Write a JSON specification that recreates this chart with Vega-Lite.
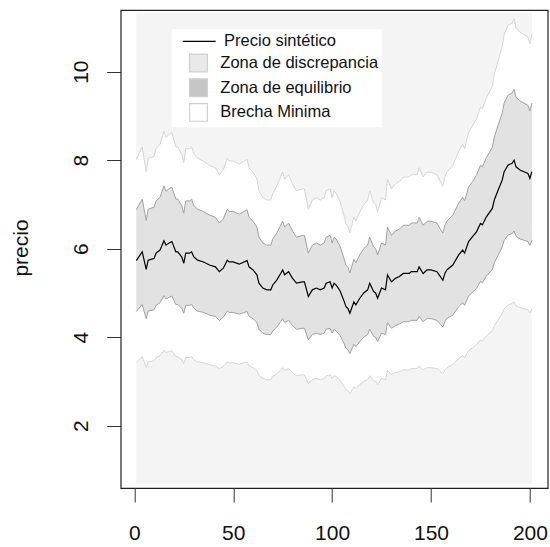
{
  "$schema": "https://vega.github.io/schema/vega-lite/v6.json",
  "autosize": "none",
  "width": 427,
  "height": 478,
  "padding": {"left": 120.7, "top": 10, "right": 2.3, "bottom": 59},
  "background": "white",
  "config": {
    "view": {"stroke": "#222222", "strokeWidth": 1.2},
    "font": "Liberation Sans",
    "axisX": {
      "title": null, "domain": false, "grid": false,
      "tickSize": 14, "tickColor": "#333333", "tickWidth": 1,
      "labelFontSize": 21, "labelFont": "Liberation Sans", "labelColor": "#111111",
      "labelPadding": 20, "labelFlush": false, "labelOverlap": false
    },
    "axisY": {
      "domain": false, "grid": false,
      "tickSize": 14, "tickColor": "#333333", "tickWidth": 1,
      "labelFontSize": 21, "labelFont": "Liberation Sans", "labelColor": "#111111",
      "labelAngle": -90, "labelAlign": "center", "labelBaseline": "alphabetic",
      "labelPadding": 19.7, "labelFlush": false, "labelOverlap": false,
      "titleFontSize": 21, "titleFont": "Liberation Sans", "titleFontWeight": "normal",
      "titleColor": "#111111", "titleAngle": -90, "titleAlign": "center",
      "titleBaseline": "alphabetic", "titleX": -93, "titleY": 237.5
    }
  },
  "data": {
    "values": [
      {"t": 1, "precio": 5.73, "ext_inf": 3.44, "eq_inf": 4.58, "eq_sup": 6.88, "ext_sup": 8.02},
      {"t": 4, "precio": 5.93, "ext_inf": 3.56, "eq_inf": 4.74, "eq_sup": 7.12, "ext_sup": 8.30},
      {"t": 6, "precio": 5.53, "ext_inf": 3.32, "eq_inf": 4.42, "eq_sup": 6.64, "ext_sup": 7.74},
      {"t": 7, "precio": 5.74, "ext_inf": 3.44, "eq_inf": 4.59, "eq_sup": 6.89, "ext_sup": 8.04},
      {"t": 10, "precio": 5.78, "ext_inf": 3.47, "eq_inf": 4.62, "eq_sup": 6.94, "ext_sup": 8.09},
      {"t": 11, "precio": 5.90, "ext_inf": 3.54, "eq_inf": 4.72, "eq_sup": 7.08, "ext_sup": 8.26},
      {"t": 13, "precio": 5.97, "ext_inf": 3.58, "eq_inf": 4.78, "eq_sup": 7.16, "ext_sup": 8.36},
      {"t": 15, "precio": 6.18, "ext_inf": 3.71, "eq_inf": 4.94, "eq_sup": 7.42, "ext_sup": 8.65},
      {"t": 16, "precio": 6.08, "ext_inf": 3.65, "eq_inf": 4.86, "eq_sup": 7.30, "ext_sup": 8.51},
      {"t": 18, "precio": 6.14, "ext_inf": 3.68, "eq_inf": 4.91, "eq_sup": 7.37, "ext_sup": 8.60},
      {"t": 19, "precio": 6.16, "ext_inf": 3.70, "eq_inf": 4.93, "eq_sup": 7.39, "ext_sup": 8.62},
      {"t": 21, "precio": 5.93, "ext_inf": 3.56, "eq_inf": 4.74, "eq_sup": 7.12, "ext_sup": 8.30},
      {"t": 22, "precio": 5.93, "ext_inf": 3.56, "eq_inf": 4.74, "eq_sup": 7.12, "ext_sup": 8.30},
      {"t": 24, "precio": 5.81, "ext_inf": 3.49, "eq_inf": 4.65, "eq_sup": 6.97, "ext_sup": 8.13},
      {"t": 25, "precio": 5.67, "ext_inf": 3.40, "eq_inf": 4.54, "eq_sup": 6.80, "ext_sup": 7.94},
      {"t": 26, "precio": 5.90, "ext_inf": 3.54, "eq_inf": 4.72, "eq_sup": 7.08, "ext_sup": 8.26},
      {"t": 28, "precio": 5.90, "ext_inf": 3.54, "eq_inf": 4.72, "eq_sup": 7.08, "ext_sup": 8.26},
      {"t": 29, "precio": 5.93, "ext_inf": 3.56, "eq_inf": 4.74, "eq_sup": 7.12, "ext_sup": 8.30},
      {"t": 30, "precio": 5.82, "ext_inf": 3.49, "eq_inf": 4.66, "eq_sup": 6.98, "ext_sup": 8.15},
      {"t": 32, "precio": 5.74, "ext_inf": 3.44, "eq_inf": 4.59, "eq_sup": 6.89, "ext_sup": 8.04},
      {"t": 35, "precio": 5.70, "ext_inf": 3.42, "eq_inf": 4.56, "eq_sup": 6.84, "ext_sup": 7.98},
      {"t": 38, "precio": 5.63, "ext_inf": 3.38, "eq_inf": 4.50, "eq_sup": 6.76, "ext_sup": 7.88},
      {"t": 41, "precio": 5.59, "ext_inf": 3.35, "eq_inf": 4.47, "eq_sup": 6.71, "ext_sup": 7.83},
      {"t": 43, "precio": 5.48, "ext_inf": 3.29, "eq_inf": 4.38, "eq_sup": 6.58, "ext_sup": 7.67},
      {"t": 45, "precio": 5.56, "ext_inf": 3.34, "eq_inf": 4.45, "eq_sup": 6.67, "ext_sup": 7.78},
      {"t": 47, "precio": 5.74, "ext_inf": 3.44, "eq_inf": 4.59, "eq_sup": 6.89, "ext_sup": 8.04},
      {"t": 48, "precio": 5.70, "ext_inf": 3.42, "eq_inf": 4.56, "eq_sup": 6.84, "ext_sup": 7.98},
      {"t": 50, "precio": 5.70, "ext_inf": 3.42, "eq_inf": 4.56, "eq_sup": 6.84, "ext_sup": 7.98},
      {"t": 53, "precio": 5.65, "ext_inf": 3.39, "eq_inf": 4.52, "eq_sup": 6.78, "ext_sup": 7.91},
      {"t": 57, "precio": 5.73, "ext_inf": 3.44, "eq_inf": 4.58, "eq_sup": 6.88, "ext_sup": 8.02},
      {"t": 58, "precio": 5.59, "ext_inf": 3.35, "eq_inf": 4.47, "eq_sup": 6.71, "ext_sup": 7.83},
      {"t": 60, "precio": 5.52, "ext_inf": 3.31, "eq_inf": 4.42, "eq_sup": 6.62, "ext_sup": 7.73},
      {"t": 62, "precio": 5.41, "ext_inf": 3.25, "eq_inf": 4.33, "eq_sup": 6.49, "ext_sup": 7.57},
      {"t": 63, "precio": 5.22, "ext_inf": 3.13, "eq_inf": 4.18, "eq_sup": 6.26, "ext_sup": 7.31},
      {"t": 65, "precio": 5.11, "ext_inf": 3.07, "eq_inf": 4.09, "eq_sup": 6.13, "ext_sup": 7.15},
      {"t": 67, "precio": 5.07, "ext_inf": 3.04, "eq_inf": 4.06, "eq_sup": 6.08, "ext_sup": 7.10},
      {"t": 69, "precio": 5.07, "ext_inf": 3.04, "eq_inf": 4.06, "eq_sup": 6.08, "ext_sup": 7.10},
      {"t": 70, "precio": 5.18, "ext_inf": 3.11, "eq_inf": 4.14, "eq_sup": 6.22, "ext_sup": 7.25},
      {"t": 72, "precio": 5.29, "ext_inf": 3.17, "eq_inf": 4.23, "eq_sup": 6.35, "ext_sup": 7.41},
      {"t": 74, "precio": 5.44, "ext_inf": 3.26, "eq_inf": 4.35, "eq_sup": 6.53, "ext_sup": 7.62},
      {"t": 75, "precio": 5.52, "ext_inf": 3.31, "eq_inf": 4.42, "eq_sup": 6.62, "ext_sup": 7.73},
      {"t": 76, "precio": 5.41, "ext_inf": 3.25, "eq_inf": 4.33, "eq_sup": 6.49, "ext_sup": 7.57},
      {"t": 78, "precio": 5.48, "ext_inf": 3.29, "eq_inf": 4.38, "eq_sup": 6.58, "ext_sup": 7.67},
      {"t": 80, "precio": 5.33, "ext_inf": 3.20, "eq_inf": 4.26, "eq_sup": 6.40, "ext_sup": 7.46},
      {"t": 82, "precio": 5.22, "ext_inf": 3.13, "eq_inf": 4.18, "eq_sup": 6.26, "ext_sup": 7.31},
      {"t": 85, "precio": 5.25, "ext_inf": 3.15, "eq_inf": 4.20, "eq_sup": 6.30, "ext_sup": 7.35},
      {"t": 86, "precio": 5.25, "ext_inf": 3.15, "eq_inf": 4.20, "eq_sup": 6.30, "ext_sup": 7.35},
      {"t": 88, "precio": 4.92, "ext_inf": 2.95, "eq_inf": 3.94, "eq_sup": 5.90, "ext_sup": 6.89},
      {"t": 90, "precio": 5.07, "ext_inf": 3.04, "eq_inf": 4.06, "eq_sup": 6.08, "ext_sup": 7.10},
      {"t": 92, "precio": 5.11, "ext_inf": 3.07, "eq_inf": 4.09, "eq_sup": 6.13, "ext_sup": 7.15},
      {"t": 94, "precio": 5.07, "ext_inf": 3.04, "eq_inf": 4.06, "eq_sup": 6.08, "ext_sup": 7.10},
      {"t": 96, "precio": 5.11, "ext_inf": 3.07, "eq_inf": 4.09, "eq_sup": 6.13, "ext_sup": 7.15},
      {"t": 97, "precio": 5.22, "ext_inf": 3.13, "eq_inf": 4.18, "eq_sup": 6.26, "ext_sup": 7.31},
      {"t": 99, "precio": 5.25, "ext_inf": 3.15, "eq_inf": 4.20, "eq_sup": 6.30, "ext_sup": 7.35},
      {"t": 100, "precio": 5.11, "ext_inf": 3.07, "eq_inf": 4.09, "eq_sup": 6.13, "ext_sup": 7.15},
      {"t": 101, "precio": 5.22, "ext_inf": 3.13, "eq_inf": 4.18, "eq_sup": 6.26, "ext_sup": 7.31},
      {"t": 102, "precio": 5.18, "ext_inf": 3.11, "eq_inf": 4.14, "eq_sup": 6.22, "ext_sup": 7.25},
      {"t": 104, "precio": 5.05, "ext_inf": 3.03, "eq_inf": 4.04, "eq_sup": 6.06, "ext_sup": 7.07},
      {"t": 106, "precio": 4.82, "ext_inf": 2.89, "eq_inf": 3.86, "eq_sup": 5.78, "ext_sup": 6.75},
      {"t": 107, "precio": 4.69, "ext_inf": 2.81, "eq_inf": 3.75, "eq_sup": 5.63, "ext_sup": 6.57},
      {"t": 108, "precio": 4.65, "ext_inf": 2.79, "eq_inf": 3.72, "eq_sup": 5.58, "ext_sup": 6.51},
      {"t": 109, "precio": 4.54, "ext_inf": 2.72, "eq_inf": 3.63, "eq_sup": 5.45, "ext_sup": 6.36},
      {"t": 111, "precio": 4.80, "ext_inf": 2.88, "eq_inf": 3.84, "eq_sup": 5.76, "ext_sup": 6.72},
      {"t": 112, "precio": 4.73, "ext_inf": 2.84, "eq_inf": 3.78, "eq_sup": 5.68, "ext_sup": 6.62},
      {"t": 114, "precio": 4.88, "ext_inf": 2.93, "eq_inf": 3.90, "eq_sup": 5.86, "ext_sup": 6.83},
      {"t": 116, "precio": 5.00, "ext_inf": 3.00, "eq_inf": 4.00, "eq_sup": 6.00, "ext_sup": 7.00},
      {"t": 118, "precio": 5.07, "ext_inf": 3.04, "eq_inf": 4.06, "eq_sup": 6.08, "ext_sup": 7.10},
      {"t": 119, "precio": 5.22, "ext_inf": 3.13, "eq_inf": 4.18, "eq_sup": 6.26, "ext_sup": 7.31},
      {"t": 121, "precio": 5.03, "ext_inf": 3.02, "eq_inf": 4.02, "eq_sup": 6.04, "ext_sup": 7.04},
      {"t": 122, "precio": 5.00, "ext_inf": 3.00, "eq_inf": 4.00, "eq_sup": 6.00, "ext_sup": 7.00},
      {"t": 123, "precio": 4.88, "ext_inf": 2.93, "eq_inf": 3.90, "eq_sup": 5.86, "ext_sup": 6.83},
      {"t": 125, "precio": 5.11, "ext_inf": 3.07, "eq_inf": 4.09, "eq_sup": 6.13, "ext_sup": 7.15},
      {"t": 127, "precio": 5.07, "ext_inf": 3.04, "eq_inf": 4.06, "eq_sup": 6.08, "ext_sup": 7.10},
      {"t": 128, "precio": 5.41, "ext_inf": 3.25, "eq_inf": 4.33, "eq_sup": 6.49, "ext_sup": 7.57},
      {"t": 130, "precio": 5.25, "ext_inf": 3.15, "eq_inf": 4.20, "eq_sup": 6.30, "ext_sup": 7.35},
      {"t": 132, "precio": 5.33, "ext_inf": 3.20, "eq_inf": 4.26, "eq_sup": 6.40, "ext_sup": 7.46},
      {"t": 134, "precio": 5.37, "ext_inf": 3.22, "eq_inf": 4.30, "eq_sup": 6.44, "ext_sup": 7.52},
      {"t": 136, "precio": 5.44, "ext_inf": 3.26, "eq_inf": 4.35, "eq_sup": 6.53, "ext_sup": 7.62},
      {"t": 139, "precio": 5.44, "ext_inf": 3.26, "eq_inf": 4.35, "eq_sup": 6.53, "ext_sup": 7.62},
      {"t": 140, "precio": 5.48, "ext_inf": 3.29, "eq_inf": 4.38, "eq_sup": 6.58, "ext_sup": 7.67},
      {"t": 143, "precio": 5.48, "ext_inf": 3.29, "eq_inf": 4.38, "eq_sup": 6.58, "ext_sup": 7.67},
      {"t": 144, "precio": 5.59, "ext_inf": 3.35, "eq_inf": 4.47, "eq_sup": 6.71, "ext_sup": 7.83},
      {"t": 146, "precio": 5.44, "ext_inf": 3.26, "eq_inf": 4.35, "eq_sup": 6.53, "ext_sup": 7.62},
      {"t": 148, "precio": 5.52, "ext_inf": 3.31, "eq_inf": 4.42, "eq_sup": 6.62, "ext_sup": 7.73},
      {"t": 150, "precio": 5.52, "ext_inf": 3.31, "eq_inf": 4.42, "eq_sup": 6.62, "ext_sup": 7.73},
      {"t": 153, "precio": 5.48, "ext_inf": 3.29, "eq_inf": 4.38, "eq_sup": 6.58, "ext_sup": 7.67},
      {"t": 155, "precio": 5.35, "ext_inf": 3.21, "eq_inf": 4.28, "eq_sup": 6.42, "ext_sup": 7.49},
      {"t": 156, "precio": 5.29, "ext_inf": 3.17, "eq_inf": 4.23, "eq_sup": 6.35, "ext_sup": 7.41},
      {"t": 157, "precio": 5.44, "ext_inf": 3.26, "eq_inf": 4.35, "eq_sup": 6.53, "ext_sup": 7.62},
      {"t": 158, "precio": 5.52, "ext_inf": 3.31, "eq_inf": 4.42, "eq_sup": 6.62, "ext_sup": 7.73},
      {"t": 161, "precio": 5.63, "ext_inf": 3.38, "eq_inf": 4.50, "eq_sup": 6.76, "ext_sup": 7.88},
      {"t": 164, "precio": 5.86, "ext_inf": 3.52, "eq_inf": 4.69, "eq_sup": 7.03, "ext_sup": 8.20},
      {"t": 166, "precio": 5.97, "ext_inf": 3.58, "eq_inf": 4.78, "eq_sup": 7.16, "ext_sup": 8.36},
      {"t": 167, "precio": 5.90, "ext_inf": 3.54, "eq_inf": 4.72, "eq_sup": 7.08, "ext_sup": 8.26},
      {"t": 169, "precio": 6.16, "ext_inf": 3.70, "eq_inf": 4.93, "eq_sup": 7.39, "ext_sup": 8.62},
      {"t": 171, "precio": 6.27, "ext_inf": 3.76, "eq_inf": 5.02, "eq_sup": 7.52, "ext_sup": 8.78},
      {"t": 173, "precio": 6.38, "ext_inf": 3.83, "eq_inf": 5.10, "eq_sup": 7.66, "ext_sup": 8.93},
      {"t": 175, "precio": 6.57, "ext_inf": 3.94, "eq_inf": 5.26, "eq_sup": 7.88, "ext_sup": 9.20},
      {"t": 176, "precio": 6.54, "ext_inf": 3.92, "eq_inf": 5.23, "eq_sup": 7.85, "ext_sup": 9.16},
      {"t": 178, "precio": 6.72, "ext_inf": 4.03, "eq_inf": 5.38, "eq_sup": 8.06, "ext_sup": 9.41},
      {"t": 181, "precio": 6.91, "ext_inf": 4.15, "eq_inf": 5.53, "eq_sup": 8.29, "ext_sup": 9.67},
      {"t": 182, "precio": 7.10, "ext_inf": 4.26, "eq_inf": 5.68, "eq_sup": 8.52, "ext_sup": 9.94},
      {"t": 184, "precio": 7.33, "ext_inf": 4.40, "eq_inf": 5.86, "eq_sup": 8.80, "ext_sup": 10.26},
      {"t": 186, "precio": 7.55, "ext_inf": 4.53, "eq_inf": 6.04, "eq_sup": 9.06, "ext_sup": 10.57},
      {"t": 187, "precio": 7.74, "ext_inf": 4.64, "eq_inf": 6.19, "eq_sup": 9.29, "ext_sup": 10.84},
      {"t": 189, "precio": 7.89, "ext_inf": 4.73, "eq_inf": 6.31, "eq_sup": 9.47, "ext_sup": 11.05},
      {"t": 191, "precio": 7.93, "ext_inf": 4.76, "eq_inf": 6.34, "eq_sup": 9.52, "ext_sup": 11.10},
      {"t": 192, "precio": 8.00, "ext_inf": 4.80, "eq_inf": 6.40, "eq_sup": 9.60, "ext_sup": 11.20},
      {"t": 193, "precio": 7.85, "ext_inf": 4.71, "eq_inf": 6.28, "eq_sup": 9.42, "ext_sup": 10.99},
      {"t": 195, "precio": 7.78, "ext_inf": 4.67, "eq_inf": 6.22, "eq_sup": 9.34, "ext_sup": 10.89},
      {"t": 197, "precio": 7.74, "ext_inf": 4.64, "eq_inf": 6.19, "eq_sup": 9.29, "ext_sup": 10.84},
      {"t": 199, "precio": 7.70, "ext_inf": 4.62, "eq_inf": 6.16, "eq_sup": 9.24, "ext_sup": 10.78},
      {"t": 200, "precio": 7.59, "ext_inf": 4.55, "eq_inf": 6.07, "eq_sup": 9.11, "ext_sup": 10.63},
      {"t": 201, "precio": 7.74, "ext_inf": 4.64, "eq_inf": 6.19, "eq_sup": 9.29, "ext_sup": 10.84}
    ]
  },
  "layer": [
    {
      "mark": {"type": "area", "fillOpacity": 0.5},
      "encoding": {
        "x": {
          "field": "t", "type": "quantitative", "title": null,
          "scale": {"domain": [-6.88, 209.0], "nice": false, "zero": false},
          "axis": {"values": [0, 50, 100, 150, 200]}
        },
        "y": {
          "field": "ext_inf", "type": "quantitative", "stack": null, "title": "precio",
          "scale": {"domain": [0.592, 11.394], "nice": false, "zero": false},
          "axis": {"values": [2, 4, 6, 8, 10]}
        },
        "y2": {"datum": 0.7},
        "fill": {
          "datum": "Zona de discrepancia",
          "scale": {
            "domain": ["Zona de discrepancia", "Zona de equilibrio", "Brecha Minima"],
            "range": ["#e9e9e9", "#c6c6c6", "#ffffff"]
          },
          "legend": {
            "orient": "none", "legendX": 51, "legendY": 19.3,
            "title": "\u00a0\u00a0\u00a0\u00a0\u00a0\u00a0\u00a0\u00a0\u00a0\u00a0\u00a0\u00a0\u00a0\u00a0\u00a0\u00a0\u00a0\u00a0\u00a0\u00a0\u00a0\u00a0\u00a0\u00a0\u00a0\u00a0\u00a0\u00a0\u00a0\u00a0\u00a0\u00a0\u00a0\u00a0\u00a0\u00a0\u00a0\u00a0\u00a0\u00a0\u00a0\u00a0\u00a0\u00a0\u00a0\u00a0\u00a0",
            "titleFontSize": 16.5, "titleFont": "Liberation Sans", "titlePadding": 4.7, "titleLimit": 400,
            "padding": 3, "fillColor": "#ffffff", "strokeColor": null,
            "symbolType": "square", "symbolSize": 313, "symbolOffset": 14.3,
            "symbolStrokeColor": "#cfcfcf", "symbolStrokeWidth": 1,
            "labelOffset": 12.3, "rowPadding": 1.7,
            "labelFontSize": 16.5, "labelFont": "Liberation Sans", "labelColor": "#111111",
            "encode": {
              "symbols": {
                "update": {
                  "fillOpacity": {"value": 1},
                  "opacity": {"value": 1},
                  "stroke": {"value": "#cfcfcf"},
                  "strokeWidth": {"value": 1.2}
                }
              }
            }
          }
        }
      }
    },
    {
      "mark": {"type": "area", "fillOpacity": 0.5},
      "encoding": {
        "x": {"field": "t", "type": "quantitative", "title": null, "scale": {"domain": [-6.88, 209.0], "nice": false, "zero": false}},
        "y": {"field": "ext_sup", "type": "quantitative", "stack": null, "title": "precio", "scale": {"domain": [0.592, 11.394], "nice": false, "zero": false}},
        "y2": {"datum": 11.33},
        "fill": {"datum": "Zona de discrepancia"}
      }
    },
    {
      "mark": {"type": "area", "fillOpacity": 0.5},
      "encoding": {
        "x": {"field": "t", "type": "quantitative", "title": null, "scale": {"domain": [-6.88, 209.0], "nice": false, "zero": false}},
        "y": {"field": "eq_inf", "type": "quantitative", "stack": null, "title": "precio", "scale": {"domain": [0.592, 11.394], "nice": false, "zero": false}},
        "y2": {"field": "ext_inf"},
        "fill": {"datum": "Brecha Minima"}
      }
    },
    {
      "mark": {"type": "area", "fillOpacity": 0.5},
      "encoding": {
        "x": {"field": "t", "type": "quantitative", "title": null, "scale": {"domain": [-6.88, 209.0], "nice": false, "zero": false}},
        "y": {"field": "ext_sup", "type": "quantitative", "stack": null, "title": "precio", "scale": {"domain": [0.592, 11.394], "nice": false, "zero": false}},
        "y2": {"field": "eq_sup"},
        "fill": {"datum": "Brecha Minima"}
      }
    },
    {
      "mark": {"type": "area", "fillOpacity": 0.5},
      "encoding": {
        "x": {"field": "t", "type": "quantitative", "title": null, "scale": {"domain": [-6.88, 209.0], "nice": false, "zero": false}},
        "y": {"field": "eq_sup", "type": "quantitative", "stack": null, "title": "precio", "scale": {"domain": [0.592, 11.394], "nice": false, "zero": false}},
        "y2": {"field": "eq_inf"},
        "fill": {"datum": "Zona de equilibrio"}
      }
    },
    {
      "mark": {"type": "line", "color": "#d6d6d6", "strokeWidth": 1},
      "encoding": {
        "x": {"field": "t", "type": "quantitative", "title": null, "scale": {"domain": [-6.88, 209.0], "nice": false, "zero": false}},
        "y": {"field": "ext_inf", "type": "quantitative", "title": "precio", "scale": {"domain": [0.592, 11.394], "nice": false, "zero": false}}
      }
    },
    {
      "mark": {"type": "line", "color": "#d6d6d6", "strokeWidth": 1},
      "encoding": {
        "x": {"field": "t", "type": "quantitative", "title": null, "scale": {"domain": [-6.88, 209.0], "nice": false, "zero": false}},
        "y": {"field": "ext_sup", "type": "quantitative", "title": "precio", "scale": {"domain": [0.592, 11.394], "nice": false, "zero": false}}
      }
    },
    {
      "mark": {"type": "line", "color": "#a2a2a2", "strokeWidth": 1},
      "encoding": {
        "x": {"field": "t", "type": "quantitative", "title": null, "scale": {"domain": [-6.88, 209.0], "nice": false, "zero": false}},
        "y": {"field": "eq_inf", "type": "quantitative", "title": "precio", "scale": {"domain": [0.592, 11.394], "nice": false, "zero": false}}
      }
    },
    {
      "mark": {"type": "line", "color": "#a2a2a2", "strokeWidth": 1},
      "encoding": {
        "x": {"field": "t", "type": "quantitative", "title": null, "scale": {"domain": [-6.88, 209.0], "nice": false, "zero": false}},
        "y": {"field": "eq_sup", "type": "quantitative", "title": "precio", "scale": {"domain": [0.592, 11.394], "nice": false, "zero": false}}
      }
    },
    {
      "mark": {"type": "line", "strokeWidth": 1.2},
      "encoding": {
        "x": {"field": "t", "type": "quantitative", "title": null, "scale": {"domain": [-6.88, 209.0], "nice": false, "zero": false}},
        "y": {"field": "precio", "type": "quantitative", "title": "precio", "scale": {"domain": [0.592, 11.394], "nice": false, "zero": false}},
        "stroke": {
          "datum": "Precio sintético",
          "scale": {"range": ["#000000"]},
          "legend": {
            "orient": "none", "legendX": 61, "legendY": 13.9,
            "title": null, "padding": 0,
            "symbolType": "stroke", "symbolSize": 1089, "symbolStrokeWidth": 1.3,
            "symbolStrokeColor": "#000000",
            "labelOffset": 7.4, "labelFontSize": 16.5, "labelFont": "Liberation Sans",
            "labelColor": "#111111"
          }
        }
      }
    }
  ]
}
